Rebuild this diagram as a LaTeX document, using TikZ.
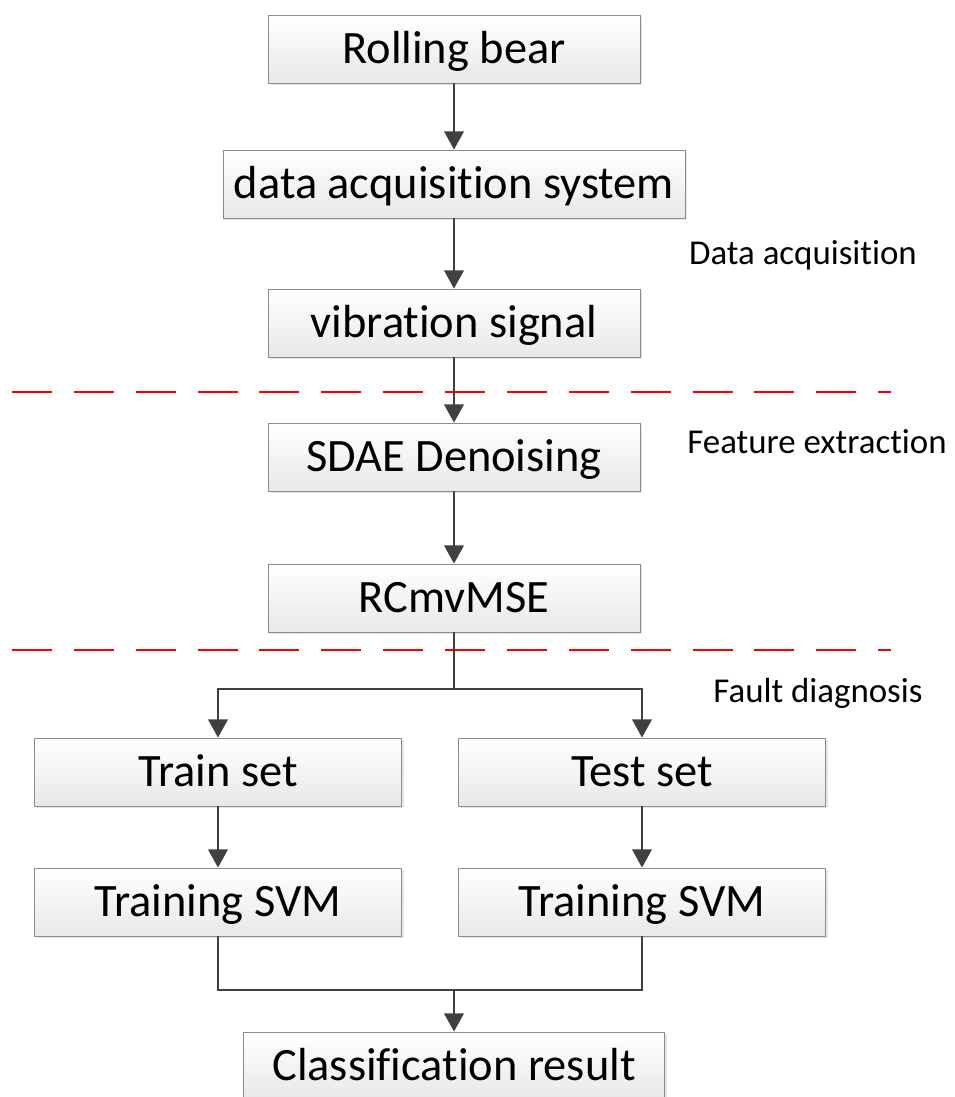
\documentclass[tikz,border=0pt]{standalone}
\usepackage{fontspec}
\setmainfont{Carlito}[Ligatures=NoCommon]
\usetikzlibrary{arrows.meta,shadows}

\begin{document}
\begin{tikzpicture}[x=0.025cm, y=-0.025cm,
    box/.style={draw=black!45, line width=0.6pt, top color=white, bottom color=black!9,
        drop shadow={shadow xshift=1.5pt, shadow yshift=-1.5pt, opacity=0.25, fill=black!40},
        minimum width=9.3cm, minimum height=1.7cm, inner sep=0pt,
        text height=26.4pt, text depth=5.3pt,
        font=\fontsize{33}{40}\selectfont},
    flow/.style={draw=black!75, line width=1.5pt, -{Triangle[width=14pt, length=13pt]}},
    link/.style={draw=black!75, line width=1.5pt},
    stage/.style={font=\fontsize{24.8}{30}\selectfont},
    split/.style={draw=red, line width=2pt, dash pattern=on 28.4pt off 15.6pt}]
    \useasboundingbox (0,0) rectangle (954,1097);

    \node[box] (bear) at (454,49) {Rolling bear};
    \node[box, minimum width=11.55cm] (daq) at (454,184) {data acquisition system};
    \node[box] (vib) at (454,323) {vibration signal};
    \node[box] (sdae) at (454,457) {SDAE Denoising};
    \node[box] (rcm) at (454,598) {RCmvMSE};
    \node[box, minimum width=9.175cm] (train) at (218,772) {Train set};
    \node[box, minimum width=9.175cm] (test) at (642,772) {Test set};
    \node[box, minimum width=9.175cm] (svml) at (218,902) {Training SVM};
    \node[box, minimum width=9.175cm] (svmr) at (642,902) {Training SVM};
    \node[box, minimum width=10.525cm] (result) at (454,1066) {Classification result};

    \node[stage] (acq) at (803,255) {Data acquisition};
    \node[stage] (feat) at (817,442) {Feature extraction};
    \node[stage] (fault) at (818,693) {Fault diagnosis};

    \draw[split] (12,392) -- (891,392);
    \draw[split] (12,650) -- (891,650);

    \draw[flow] (bear) -- (daq);
    \draw[flow] (daq) -- (vib);
    \draw[flow] (vib) -- (sdae);
    \draw[flow] (sdae) -- (rcm);
    \coordinate (fork) at (454,689);
    \draw[link] (rcm) -- (fork);
    \draw[flow] (fork) -| (train);
    \draw[flow] (fork) -| (test);
    \draw[flow] (train) -- (svml);
    \draw[flow] (test) -- (svmr);
    \coordinate (join) at (454,990);
    \draw[link] (svml) |- (join) -| (svmr);
    \draw[flow] (join) -- (result);
\end{tikzpicture}
\end{document}
